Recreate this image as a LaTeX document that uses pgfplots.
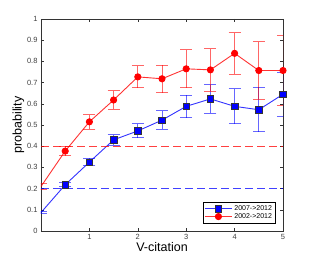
\documentclass[border=0pt]{standalone}
\usepackage{fontspec}
\setmainfont{Liberation Sans}
\usepackage{pgfplots}
\pgfplotsset{compat=1.18}
\begin{document}
\begin{tikzpicture}
\useasboundingbox (-41pt,-29pt) rectangle (271pt,231pt);
\begin{axis}[
  at={(0,0)}, anchor=south west,
  scale only axis, width=242pt, height=212pt,
  xmin=0, xmax=5, ymin=0, ymax=1,
  xtick={1,2,3,4,5}, ytick={0,0.1,...,1},
  yticklabel style={/pgf/number format/fixed,/pgf/number format/precision=1},
  /pgf/number format/assume math mode=true,
  tick label style={font=\fontsize{7.5}{8}\selectfont, text=black!75},
  tick align=inside, tick style={black!80, thin}, major tick length=3pt,
  axis line style={black!80},
  xlabel={V-citation}, ylabel={probability},
  label style={font=\fontsize{12.5}{14}\selectfont},
  xlabel style={yshift=4pt}, ylabel style={yshift=-4pt},
  legend style={at={(0.97,0.035)}, anchor=south east, font=\fontsize{7}{8}\selectfont, inner sep=1.5pt, row sep=-2.5pt, draw=black, line width=0.6pt},
  legend cell align=left,
  legend image code/.code={\draw[#1, mark=none] (0pt,0pt) -- (27pt,0pt); \draw[#1, draw opacity=1] plot[mark indices={1}] coordinates {(13.5pt,0pt)};},
]
\addplot [blue, draw opacity=0.8, line width=0.9pt, mark=square*, mark size=3.3pt, mark options={fill=blue, draw=black!80, line width=0.5pt, draw opacity=1}, mark indices={2,3,4,5,6,7,8,9,10,11},
  error bars/.cd, y dir=both, y explicit, error mark options={rotate=90, mark size=6pt, blue, opacity=0.6, line width=1pt}, error bar style={blue, opacity=0.6, line width=1pt}]
  coordinates {
  (0,0.087) +- (0,0.005)
  (0.5,0.218) +- (0,0.010)
  (1,0.325) +- (0,0.017)
  (1.5,0.430) +- (0,0.025)
  (2,0.472) +- (0,0.033)
  (2.5,0.523) +- (0,0.044)
  (3,0.588) +- (0,0.053)
  (3.5,0.623) +- (0,0.067)
  (4,0.588) +- (0,0.082)
  (4.5,0.572) +- (0,0.105)
  (5,0.645) +- (0,0.105)
  };
\addlegendentry{2007->2012}
\addplot [red, draw opacity=0.8, line width=0.9pt, mark=*, mark size=3.1pt, mark options={fill=red, draw=red, draw opacity=1}, mark indices={2,3,4,5,6,7,8,9,10,11},
  error bars/.cd, y dir=both, y explicit, error mark options={rotate=90, mark size=6pt, red, opacity=0.6, line width=1pt}, error bar style={red, opacity=0.6, line width=1pt}]
  coordinates {
  (0,0.210) +- (0,0.015)
  (0.5,0.377) +- (0,0.022)
  (1,0.515) +- (0,0.034)
  (1.5,0.618) +- (0,0.043)
  (2,0.727) +- (0,0.052)
  (2.5,0.718) +- (0,0.065)
  (3,0.765) +- (0,0.089)
  (3.5,0.760) +- (0,0.100)
  (4,0.838) +- (0,0.098)
  (4.5,0.757) +- (0,0.135)
  (5,0.757) +- (0,0.163)
  };
\addlegendentry{2002->2012}
\addplot [red, opacity=0.75, line width=0.9pt, dash pattern=on 8pt off 4pt, forget plot] coordinates {(0,0.4) (5,0.4)};
\addplot [blue, opacity=0.75, line width=0.9pt, dash pattern=on 8pt off 4pt, forget plot] coordinates {(0,0.2) (5,0.2)};
\end{axis}
\end{tikzpicture}
\end{document}
